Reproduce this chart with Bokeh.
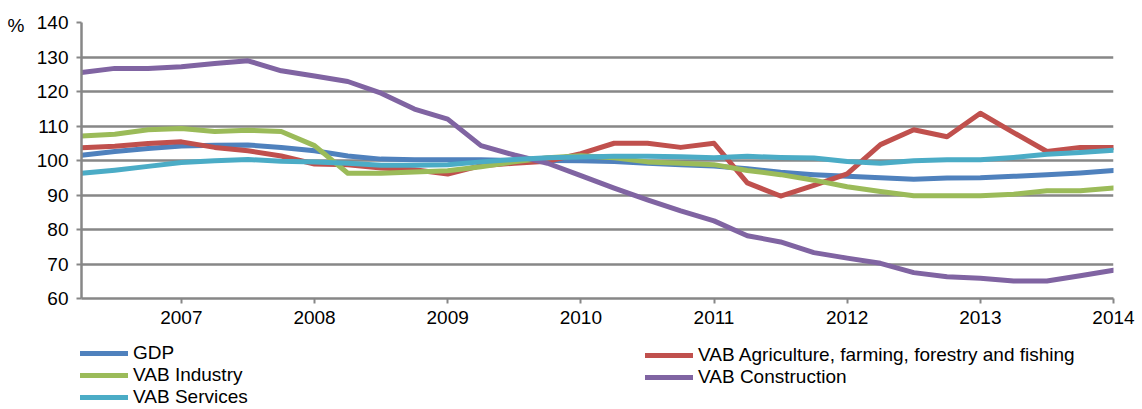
from bokeh.plotting import figure
from bokeh.layouts import column
from bokeh.models import Legend, FixedTicker, Range1d, LinearAxis
from bokeh.embed import file_html
from bokeh.resources import INLINE

# Quarterly periods (year, quarter)
periods = [(2006, 2), (2006, 3), (2006, 4),
           (2007, 1), (2007, 2), (2007, 3), (2007, 4),
           (2008, 1), (2008, 2), (2008, 3), (2008, 4),
           (2009, 1), (2009, 2), (2009, 3), (2009, 4),
           (2010, 1), (2010, 2), (2010, 3), (2010, 4),
           (2011, 1), (2011, 2), (2011, 3), (2011, 4),
           (2012, 1), (2012, 2), (2012, 3), (2012, 4),
           (2013, 1), (2013, 2), (2013, 3), (2013, 4),
           (2014, 1)]
year_ticks = [2007, 2008, 2009, 2010, 2011, 2012, 2013, 2014]
y_ticks = [60, 70, 80, 90, 100, 110, 120, 130, 140]
unit_label = "%"

gdp = [101.5, 102.6, 103.5, 104.2, 104.4, 104.5, 103.8, 102.8, 101.3, 100.4,
       100.2, 100.2, 100.2, 100.0, 100.0, 99.9, 99.7, 99.2, 98.8, 98.4,
       97.6, 96.6, 95.9, 95.4, 95.0, 94.6, 94.9, 95.0, 95.4, 95.9, 96.4, 97.1]
agriculture = [103.7, 104.1, 104.9, 105.4, 103.8, 102.8, 101.3, 99.0, 98.8, 97.8,
               97.3, 96.1, 98.5, 99.2, 99.8, 102.0, 105.0, 105.0, 103.8, 105.0,
               93.5, 89.7, 92.8, 96.1, 104.6, 108.9, 106.9, 113.7, 108.1, 102.6,
               103.8, 103.8]
industry = [107.1, 107.6, 108.9, 109.3, 108.4, 108.8, 108.4, 104.3, 96.3, 96.3,
            96.7, 97.0, 98.2, 99.6, 100.8, 101.4, 100.8, 99.6, 99.2, 98.8,
            97.1, 95.9, 94.3, 92.4, 91.0, 89.8, 89.8, 89.8, 90.2, 91.2, 91.2, 92.0]
construction = [125.5, 126.7, 126.7, 127.2, 128.1, 128.9, 126.0, 124.5, 122.9, 119.5,
                114.9, 112.0, 104.3, 101.6, 99.2, 95.6, 92.0, 88.6, 85.4, 82.5,
                78.2, 76.4, 73.3, 71.7, 70.2, 67.5, 66.3, 65.9, 65.1, 65.1, 66.6, 68.2]
services = [96.3, 97.2, 98.3, 99.4, 99.9, 100.3, 99.8, 99.6, 99.2, 98.6,
            98.6, 98.8, 99.6, 100.3, 100.8, 101.0, 101.2, 101.2, 101.1, 100.8,
            101.2, 100.9, 100.7, 99.7, 99.2, 99.9, 100.2, 100.2, 100.9, 101.8,
            102.3, 103.0]

series_names = ["GDP",
                "VAB Agriculture, farming, forestry and fishing",
                "VAB Industry",
                "VAB Construction",
                "VAB Services"]
series_values = [gdp, agriculture, industry, construction, services]
series_colors = ["#4F81BD", "#C0504D", "#9BBB59", "#8064A2", "#4BACC6"]

x = [y + (q - 1) / 4 for (y, q) in periods]

FONT = "Liberation Sans"
GRID = "#878787"
FS = "19px"

# ---------------- main chart ----------------
p = figure(width=1142, height=340, output_backend="svg", toolbar_location=None,
           x_range=Range1d(x[0], x[-1]), y_range=Range1d(60, 140),
           min_border_left=81, min_border_right=29, min_border_top=22,
           min_border_bottom=42)
p.frame_align = False
p.outline_line_color = None
p.background_fill_color = "white"

p.xgrid.visible = False
p.ygrid.grid_line_color = GRID
p.ygrid.grid_line_width = 2.5
p.ygrid.ticker = FixedTicker(ticks=y_ticks)

p.yaxis.ticker = FixedTicker(ticks=y_ticks)
p.xaxis.ticker = FixedTicker(ticks=year_ticks)
for ax in (p.xaxis[0], p.yaxis[0]):
    ax.axis_line_color = GRID
    ax.axis_line_width = 2.5
    ax.major_tick_line_color = GRID
    ax.major_tick_line_width = 2
    ax.major_tick_out = 5
    ax.major_tick_in = 0
    ax.minor_tick_line_color = None
    ax.major_label_text_font = FONT
    ax.major_label_text_font_size = FS
    ax.major_label_text_color = "#000000"
p.yaxis.major_label_standoff = 8
p.xaxis.major_label_standoff = 7

# secondary left axis only carrying the "%" unit text near the top
unit_axis = LinearAxis(ticker=FixedTicker(ticks=[139]),
                       major_label_overrides={139: unit_label},
                       axis_line_color=None, major_tick_line_color=None,
                       minor_tick_line_color=None, major_tick_out=0, major_tick_in=0,
                       major_label_standoff=9, major_label_text_font=FONT,
                       major_label_text_font_size=FS, major_label_text_color="#000000")
p.add_layout(unit_axis, "left")

renderers = []
for name, vals, col in zip(series_names, series_values, series_colors):
    r = p.line(x, vals, line_color=col, line_width=5, line_join="round", line_cap="round")
    renderers.append(r)

# ---------------- legend strip ----------------
# The same series are drawn here outside the visible ranges, only to feed the legend.
lg = figure(width=1142, height=69, output_backend="svg", toolbar_location=None,
            x_range=Range1d(0, 1), y_range=Range1d(0, 1),
            x_axis_location=None, y_axis_location=None,
            min_border=0, min_border_left=0, min_border_right=0,
            min_border_top=0, min_border_bottom=0)
lg.frame_align = False
lg.grid.visible = False
lg.outline_line_color = None
lg_renderers = []
for vals, col in zip(series_values, series_colors):
    lg_renderers.append(lg.line(x, vals, line_color=col, line_width=5, line_cap="round"))

common = dict(border_line_color=None, background_fill_alpha=0, padding=0, margin=0,
              spacing=0, glyph_width=48, glyph_height=20, label_height=20,
              label_standoff=5, label_text_font=FONT, label_text_font_size=FS,
              label_text_color="#000000", label_text_baseline="middle")

leg1 = Legend(items=[(series_names[0], [lg_renderers[0]]),
                     (series_names[2], [lg_renderers[2]]),
                     (series_names[4], [lg_renderers[4]])],
              location=(80, 1), **common)
leg2 = Legend(items=[(series_names[1], [lg_renderers[1]]),
                     (series_names[3], [lg_renderers[3]])],
              location=(645, 21), **common)
lg.add_layout(leg1)
lg.add_layout(leg2)

layout = column(p, lg, spacing=0)
open("out.html", "w").write(file_html(layout, INLINE))
